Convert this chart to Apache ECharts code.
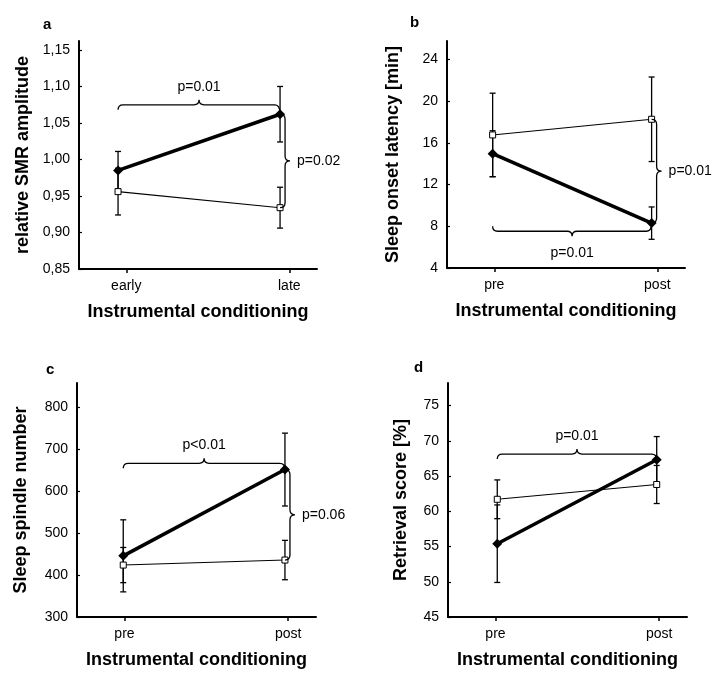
<!DOCTYPE html>
<html>
<head>
<meta charset="utf-8">
<script src="https://cdn.jsdelivr.net/npm/echarts@6/dist/echarts.min.js"></script>
<style>
html,body{margin:0;padding:0;background:#fff;}
#chart{width:725px;height:682px;}
</style>
</head>
<body>
<div id="chart"></div>
<script>
// ---------------- DATA ----------------
const catsA = ['early', 'late'];
const catsPrePost = ['pre', 'post'];

// Panel a: relative SMR amplitude
const smrFilled = [0.985, 1.062];
const smrFilledErr = [0.026, 0.038];
const smrOpen = [0.956, 0.934];
const smrOpenErr = [0.032, 0.028];
const smrTicks = [0.85, 0.90, 0.95, 1.00, 1.05, 1.10, 1.15];

// Panel b: sleep onset latency [min]
const solFilled = [14.95, 8.3];
const solFilledErr = [2.2, 1.55];
const solOpen = [16.75, 18.25];
const solOpenErr = [4.0, 4.05];
const solTicks = [4, 8, 12, 16, 20, 24];

// Panel c: sleep spindle number
const spFilled = [446, 652];
const spFilledErr = [86, 87];
const spOpen = [424, 436];
const spOpenErr = [42, 47];
const spTicks = [300, 400, 500, 600, 700, 800];

// Panel d: retrieval score [%]
const retFilled = [55.4, 67.3];
const retFilledErr = [5.5, 3.3];
const retOpen = [61.7, 63.8];
const retOpenErr = [2.75, 2.7];
const retTicks = [45, 50, 55, 60, 65, 70, 75];

// Significance braces (data coordinates: [category index, value])
const bracesA = [
  { from: [0, 1.068], to: [1, 1.062], dir: 'up', label: 'p=0.01' },
  { from: [1, 1.062], to: [1, 0.934], dir: 'right', label: 'p=0.02' }
];
const bracesB = [
  { from: [0, 8.0], to: [1, 8.3], dir: 'down', label: 'p=0.01' },
  { from: [1, 18.25], to: [1, 8.3], dir: 'right', label: 'p=0.01' }
];
const bracesC = [
  { from: [0, 655], to: [1, 652], dir: 'up', label: 'p<0.01' },
  { from: [1, 652], to: [1, 436], dir: 'right', label: 'p=0.06' }
];
const bracesD = [
  { from: [0, 67.4], to: [1, 67.3], dir: 'up', label: 'p=0.01' }
];

// ---------------- CHART ----------------
const FONT = '"Liberation Sans", Arial, Helvetica, sans-serif';
const chart = echarts.init(document.getElementById('chart'), null, { renderer: 'canvas' });

const panels = [
  { grid: { left: 79, top: 41, width: 238, height: 228 }, yMin: 0.85, yMax: 1.1623, ticks: smrTicks,
    fmt: v => v.toFixed(2).replace('.', ','), yName: 'relative SMR amplitude', nameGap: 47,
    cats: catsA, dataX: [-0.241, 1.228],
    filled: smrFilled, filledErr: smrFilledErr, open: smrOpen, openErr: smrOpenErr, braces: bracesA },
  { grid: { left: 447, top: 41, width: 238, height: 227 }, yMin: 4, yMax: 25.75, ticks: solTicks,
    fmt: v => String(v), yName: 'Sleep onset latency [min]', nameGap: 45,
    cats: catsPrePost, dataX: [-0.287, 1.21],
    filled: solFilled, filledErr: solFilledErr, open: solOpen, openErr: solOpenErr, braces: bracesB },
  { grid: { left: 77, top: 383, width: 239, height: 234 }, yMin: 300, yMax: 858.7, ticks: spTicks,
    fmt: v => String(v), yName: 'Sleep spindle number', nameGap: 47,
    cats: catsPrePost, dataX: [-0.286, 1.192],
    filled: spFilled, filledErr: spFilledErr, open: spOpen, openErr: spOpenErr, braces: bracesC },
  { grid: { left: 448, top: 383, width: 239, height: 234 }, yMin: 45, yMax: 78.2, ticks: retTicks,
    fmt: v => String(v), yName: 'Retrieval score [%]', nameGap: 38,
    cats: catsPrePost, dataX: [-0.309, 1.19],
    filled: retFilled, filledErr: retFilledErr, open: retOpen, openErr: retOpenErr, braces: bracesD }
];

const grids = [], xAxes = [], yAxes = [], series = [];

panels.forEach((p, i) => {
  grids.push(Object.assign({ containLabel: false }, p.grid));
  // visible category axis (ticks + labels)
  xAxes.push({
    type: 'value', gridIndex: i, min: -0.29, max: 1.17,
    axisLine: { show: true, onZero: false, lineStyle: { color: '#000', width: 2 } },
    axisTick: { show: true, inside: false, length: 4, customValues: [0, 1], lineStyle: { color: '#000', width: 1.5 } },
    axisLabel: { show: true, customValues: [0, 1], formatter: v => p.cats[Math.round(v)],
      fontFamily: FONT, fontSize: 14, color: '#000', margin: 10 },
    splitLine: { show: false },
    name: 'Instrumental conditioning', nameLocation: 'middle', nameGap: 34,
    nameTextStyle: { fontFamily: FONT, fontSize: 18, fontWeight: 'bold', color: '#000' }
  });
  // hidden data axis
  xAxes.push({
    type: 'value', gridIndex: i, min: p.dataX[0], max: p.dataX[1], show: false,
    axisLine: { onZero: false }, splitLine: { show: false }
  });
  yAxes.push({
    type: 'value', gridIndex: i, min: p.yMin, max: p.yMax,
    axisLine: { show: true, onZero: false, lineStyle: { color: '#000', width: 2 } },
    axisTick: { show: true, inside: true, length: 3, customValues: p.ticks, lineStyle: { color: '#000', width: 1.2 } },
    axisLabel: { show: true, customValues: p.ticks, formatter: p.fmt,
      fontFamily: FONT, fontSize: 14, color: '#000', margin: 9 },
    splitLine: { show: false },
    name: p.yName, nameLocation: 'middle', nameRotate: 90, nameGap: p.nameGap,
    nameTextStyle: { fontFamily: FONT, fontSize: 18, fontWeight: 'bold', color: '#000' }
  });

  const xi = i * 2 + 1;
  const errSeries = (vals, errs) => ({
    type: 'custom', xAxisIndex: xi, yAxisIndex: i, z: 2, silent: true,
    data: vals.map((v, k) => [k, v - errs[k], v + errs[k]]),
    renderItem: (params, api) => {
      const lo = api.coord([api.value(0), api.value(1)]);
      const hi = api.coord([api.value(0), api.value(2)]);
      const x = lo[0], c = 3;
      const st = { stroke: '#000', lineWidth: 1.3, fill: null };
      return { type: 'group', children: [
        { type: 'line', shape: { x1: x, y1: lo[1], x2: x, y2: hi[1] }, style: st },
        { type: 'line', shape: { x1: x - c, y1: lo[1], x2: x + c, y2: lo[1] }, style: st },
        { type: 'line', shape: { x1: x - c, y1: hi[1], x2: x + c, y2: hi[1] }, style: st }
      ] };
    }
  });
  series.push(errSeries(p.open, p.openErr));
  series.push(errSeries(p.filled, p.filledErr));

  series.push({
    type: 'line', xAxisIndex: xi, yAxisIndex: i, z: 3, silent: true,
    data: p.open.map((v, k) => [k, v]),
    lineStyle: { color: '#000', width: 1.1 },
    symbol: 'rect', symbolSize: 6,
    itemStyle: { color: '#fff', borderColor: '#000', borderWidth: 1 },
    animation: false
  });
  series.push({
    type: 'line', xAxisIndex: xi, yAxisIndex: i, z: 4, silent: true,
    data: p.filled.map((v, k) => [k, v]),
    lineStyle: { color: '#000', width: 3.5 },
    symbol: 'diamond', symbolSize: 10,
    itemStyle: { color: '#000', borderColor: '#000', borderWidth: 0 },
    animation: false
  });

  // braces
  series.push({
    type: 'custom', xAxisIndex: xi, yAxisIndex: i, z: 5, silent: true,
    data: p.braces.map(b => [b.from[0], b.from[1], b.to[0], b.to[1]]),
    renderItem: (params, api) => {
      const b = p.braces[params.dataIndex];
      const p1 = api.coord([api.value(0), api.value(1)]);
      const p2 = api.coord([api.value(2), api.value(3)]);
      const h = 5, t = 5, r = 5;
      let path, text;
      const tstyle = { fontFamily: FONT, fontSize: 14, fill: '#000' };
      if (b.dir === 'up' || b.dir === 'down') {
        const s = b.dir === 'up' ? -1 : 1;
        const yM = s < 0 ? Math.min(p1[1], p2[1]) - h : Math.max(p1[1], p2[1]) + h;
        const xm = (p1[0] + p2[0]) / 2;
        path = `M${p1[0]},${p1[1]} Q${p1[0]},${yM} ${p1[0] + r},${yM} L${xm - r},${yM} ` +
               `Q${xm},${yM} ${xm},${yM + s * t} Q${xm},${yM} ${xm + r},${yM} ` +
               `L${p2[0] - r},${yM} Q${p2[0]},${yM} ${p2[0]},${p2[1]}`;
        text = Object.assign({ text: b.label, x: xm, y: yM + s * t + (s < 0 ? -6 : 10),
          textAlign: 'center', align: 'center',
          textVerticalAlign: s < 0 ? 'bottom' : 'top', verticalAlign: s < 0 ? 'bottom' : 'top' }, tstyle);
      } else {
        const xM = Math.max(p1[0], p2[0]) + h;
        const ym = (p1[1] + p2[1]) / 2;
        path = `M${p1[0]},${p1[1]} Q${xM},${p1[1]} ${xM},${p1[1] + r} L${xM},${ym - r} ` +
               `Q${xM},${ym} ${xM + t},${ym} Q${xM},${ym} ${xM},${ym + r} ` +
               `L${xM},${p2[1] - r} Q${xM},${p2[1]} ${p2[0]},${p2[1]}`;
        text = Object.assign({ text: b.label, x: xM + t + 7, y: ym,
          textAlign: 'left', align: 'left', textVerticalAlign: 'middle', verticalAlign: 'middle' }, tstyle);
      }
      return { type: 'group', children: [
        { type: 'path', shape: { pathData: path }, style: { stroke: '#000', lineWidth: 1.3, fill: null } },
        { type: 'text', style: text }
      ] };
    }
  });
});

const letters = [
  { text: 'a', left: 43, top: 17 },
  { text: 'b', left: 410, top: 15 },
  { text: 'c', left: 46, top: 362 },
  { text: 'd', left: 414, top: 360 }
];

chart.setOption({
  animation: false,
  backgroundColor: '#fff',
  title: letters.map(l => ({ text: l.text, left: l.left, top: l.top, padding: 0,
    textStyle: { fontFamily: FONT, fontSize: 15, fontWeight: 'bold', color: '#000' } })),
  grid: grids,
  xAxis: xAxes,
  yAxis: yAxes,
  series: series
});
</script>
</body>
</html>
